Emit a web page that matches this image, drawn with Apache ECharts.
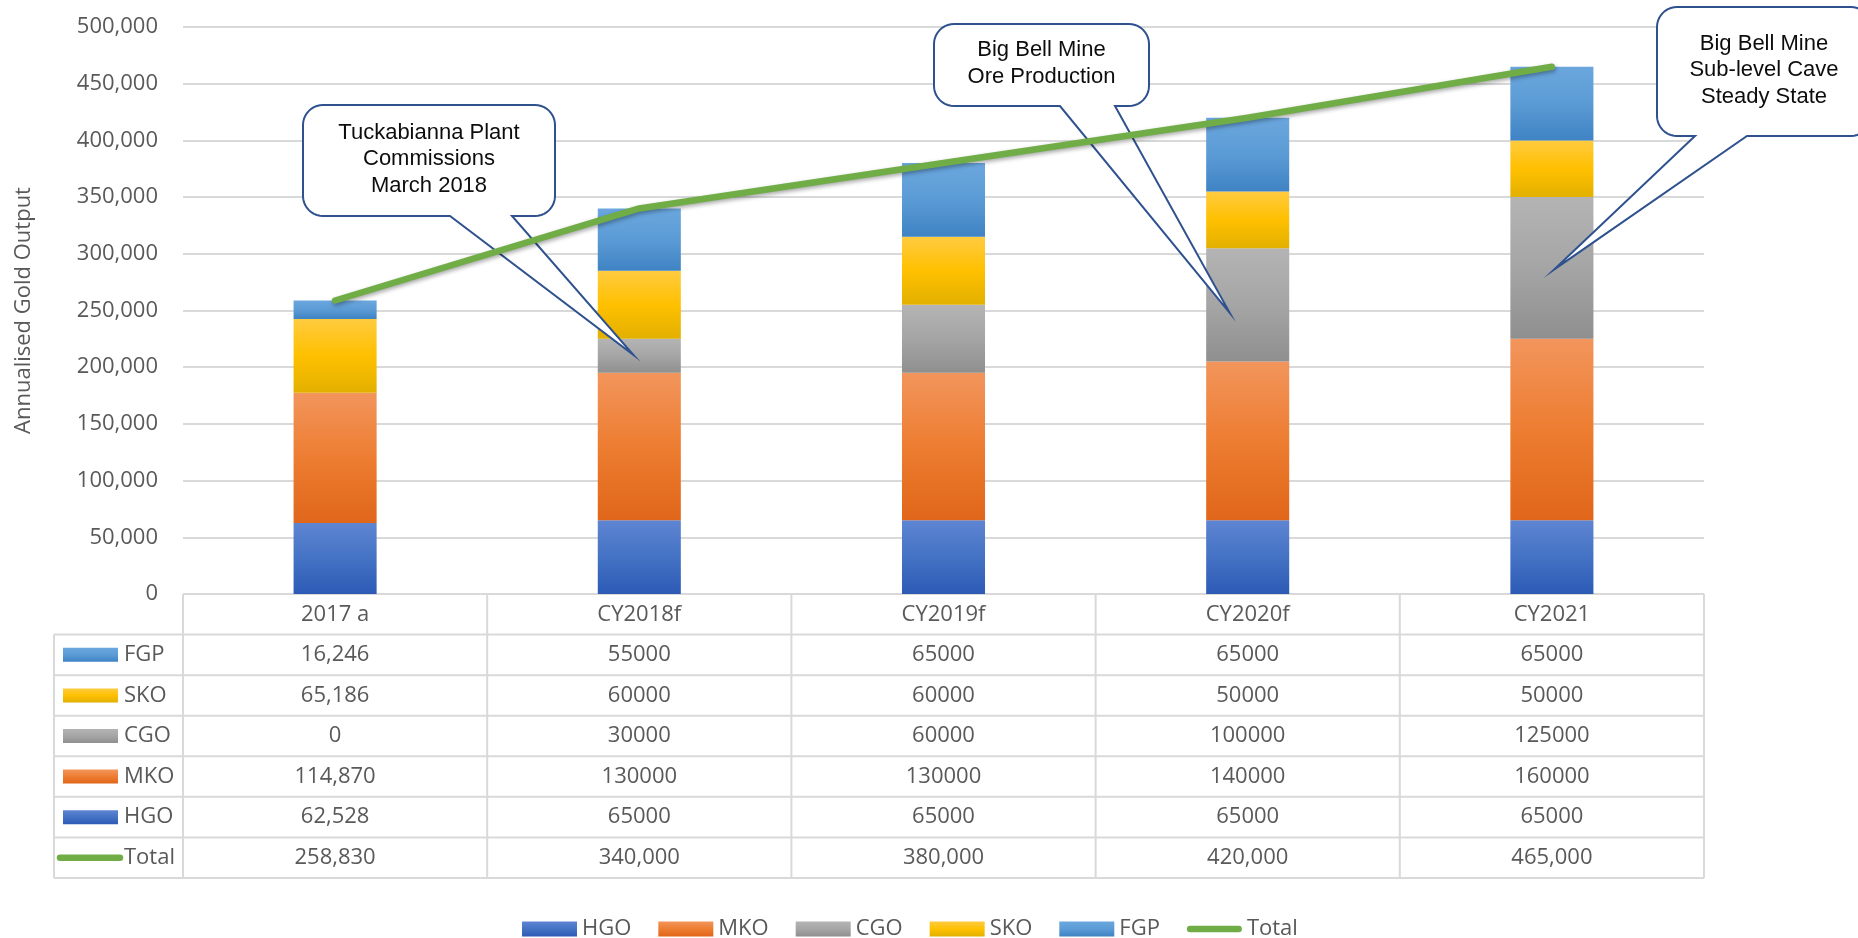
<!DOCTYPE html>
<html>
<head>
<meta charset="utf-8">
<title>Annualised Gold Output</title>
<script src="https://cdn.jsdelivr.net/npm/echarts@6/dist/echarts.min.js"></script>
<style>
  html, body { margin: 0; padding: 0; background: #ffffff; }
  #chart { width: 1858px; height: 938px; }
</style>
</head>
<body>
<div id="chart"></div>
<script>
// ---- data ----
const categories = ['2017 a', 'CY2018f', 'CY2019f', 'CY2020f', 'CY2021'];
const hgo   = [62528, 65000, 65000, 65000, 65000];
const mko   = [114870, 130000, 130000, 140000, 160000];
const cgo   = [0, 30000, 60000, 100000, 125000];
const sko   = [65186, 60000, 60000, 50000, 50000];
const fgp   = [16246, 55000, 65000, 65000, 65000];
const total = [258830, 340000, 380000, 420000, 465000];
// the actual year is printed with thousands separators, forecasts as plain numbers
const groupedColumns = [true, false, false, false, false];
const yMin = 0, yMax = 500000, yStep = 50000;

// ---- look ----
const FONT = "'Open Sans', sans-serif";
const CALLOUT_FONT = "'Liberation Sans', Arial, sans-serif";
const TEXT = '#595959';
const RULE = '#D9D9D9';
const GREEN = '#70AD47';

const fmt = v => Number(v).toLocaleString('en-US');

function grad(stops) {
  return new echarts.graphic.LinearGradient(0, 0, 0, 1, [
    { offset: 0, color: stops[0] },
    { offset: 0.5, color: stops[1] },
    { offset: 1, color: stops[2] }
  ]);
}

const stackDefs = [
  { name: 'HGO', data: hgo, fill: ['#5E85D2', '#4472C4', '#2D5AB5'] },
  { name: 'MKO', data: mko, fill: ['#F2955C', '#ED7D31', '#E0661A'] },
  { name: 'CGO', data: cgo, fill: ['#B4B4B4', '#A5A5A5', '#8F8F8F'] },
  { name: 'SKO', data: sko, fill: ['#FFCB40', '#FFC000', '#E2B000'] },
  { name: 'FGP', data: fgp, fill: ['#6BA7DE', '#5B9BD5', '#3F83C4'] }
];

// rows of the data table under the plot, top to bottom
const tableRows = ['FGP', 'SKO', 'CGO', 'MKO', 'HGO', 'Total'];

// speech-bubble notes: box in page pixels, tail tip anchored to a bar
const callouts = [
  { lines: ['Tuckabianna Plant', 'Commissions', 'March 2018'],
    box: [303, 105, 555, 216], base: [450, 512], cat: 1, value: 211000, dx: -6 },
  { lines: ['Big Bell Mine', 'Ore Production'],
    box: [934, 24, 1149, 106], base: [1060, 1115], cat: 3, value: 248000, dx: -18 },
  { lines: ['Big Bell Mine', 'Sub-level Cave', 'Steady State'],
    box: [1657, 7, 1871, 136], base: [1695, 1747], cat: 4, value: 286000, dx: 2 }
];

const chart = echarts.init(document.getElementById('chart'), null, { renderer: 'canvas' });

const series = stackDefs.map(s => ({
  type: 'bar',
  name: s.name,
  stack: 'gold',
  data: s.data,
  barWidth: '27.3%',
  itemStyle: {
    color: grad(s.fill),
    shadowBlur: 5,
    shadowColor: 'rgba(0,0,0,0.18)'
  },
  emphasis: { disabled: true }
}));

series.push({
  type: 'line',
  name: 'Total',
  data: total,
  z: 5,
  symbol: 'none',
  showSymbol: false,
  itemStyle: { color: GREEN },
  lineStyle: {
    color: GREEN,
    width: 6.5,
    cap: 'round',
    join: 'round',
    shadowBlur: 4,
    shadowOffsetX: 1,
    shadowOffsetY: 2,
    shadowColor: 'rgba(0,0,0,0.35)'
  },
  emphasis: { disabled: true }
});

const legendData = stackDefs.map(s => ({ name: s.name, icon: 'rect' }));
legendData.push({
  name: 'Total',
  icon: 'path://M3.5,0 L56.5,0 A3.5,3.5 0 0 1 56.5,7 L3.5,7 A3.5,3.5 0 0 1 3.5,0 Z',
  itemStyle: { color: GREEN, borderWidth: 0 }
});

chart.setOption({
  animation: false,
  backgroundColor: '#ffffff',
  grid: { left: 183, right: 154, top: 27, bottom: 344, containLabel: false, outerBoundsMode: 'none' },
  xAxis: {
    type: 'category',
    data: categories,
    axisLine: { show: false },
    axisTick: { show: false },
    axisLabel: { show: false },
    splitLine: { show: false }
  },
  yAxis: {
    type: 'value',
    min: yMin,
    max: yMax,
    interval: yStep,
    axisLine: { show: false },
    axisTick: { show: false },
    splitLine: { lineStyle: { color: RULE, width: 2 } },
    axisLabel: { margin: 25, fontFamily: FONT, fontSize: 22, color: TEXT, formatter: v => fmt(v) },
    name: 'Annualised Gold Output',
    nameLocation: 'middle',
    nameGap: 148,
    nameTextStyle: { fontFamily: FONT, fontSize: 22, color: TEXT }
  },
  legend: {
    left: 517,
    top: 913,
    itemWidth: 55,
    itemHeight: 15,
    itemGap: 27,
    selectedMode: false,
    textStyle: { fontFamily: FONT, fontSize: 22, color: TEXT },
    data: legendData
  },
  series: series
});

// ---- data table and notes, laid out on the chart's own scales ----
function roundedBubble(c, tip) {
  const [x0, y0, x1, y1] = c.box;
  const r = 20, n = 10;
  const pts = [];
  const arc = (cx, cy, a0, a1) => {
    for (let i = 0; i <= n; i++) {
      const a = (a0 + (a1 - a0) * i / n) * Math.PI / 180;
      pts.push([cx + r * Math.cos(a), cy + r * Math.sin(a)]);
    }
  };
  arc(x0 + r, y0 + r, 180, 270);
  arc(x1 - r, y0 + r, 270, 360);
  arc(x1 - r, y1 - r, 0, 90);
  pts.push([c.base[1], y1]);
  pts.push(tip);
  pts.push([c.base[0], y1]);
  arc(x0 + r, y1 - r, 90, 180);
  return pts;
}

function drawOverlay() {
  const els = [];
  const zeroY = chart.convertToPixel({ yAxisIndex: 0 }, 0);
  const centers = categories.map((c, i) => chart.convertToPixel({ xAxisIndex: 0 }, i));
  const step = centers[1] - centers[0];
  const edges = [centers[0] - step / 2].concat(centers.map(c => c + step / 2));
  const left = 54;
  const right = edges[edges.length - 1];
  const tableBottom = 878;
  const rowH = (tableBottom - zeroY) / (tableRows.length + 1);
  const lineStyle = { stroke: RULE, lineWidth: 2 };

  // horizontal rules
  for (let k = 0; k <= tableRows.length + 1; k++) {
    const y = zeroY + k * rowH;
    els.push({ type: 'line', z: 1, shape: { x1: k === 0 ? edges[0] : left, y1: y, x2: right, y2: y }, style: lineStyle, silent: true });
  }
  // vertical rules
  edges.forEach(x => {
    els.push({ type: 'line', z: 1, shape: { x1: x, y1: zeroY, x2: x, y2: tableBottom }, style: lineStyle, silent: true });
  });
  els.push({ type: 'line', z: 1, shape: { x1: left, y1: zeroY + rowH, x2: left, y2: tableBottom }, style: lineStyle, silent: true });

  const cellText = (text, x, y, align) => ({
    type: 'text', z: 1, silent: true,
    style: { text: text, x: x, y: y, align: align || 'center', verticalAlign: 'middle',
             textAlign: align || 'center', textVerticalAlign: 'middle',
             fontFamily: FONT, fontSize: 22, fill: TEXT }
  });

  // header row: category names
  categories.forEach((c, i) => els.push(cellText(c, centers[i], zeroY + rowH / 2)));

  // value rows with their key
  tableRows.forEach((name, r) => {
    const cy = zeroY + (r + 1.5) * rowH;
    if (name === 'Total') {
      els.push({ type: 'line', z: 1, silent: true, shape: { x1: 60, y1: cy, x2: 120, y2: cy },
                 style: { stroke: GREEN, lineWidth: 6.5, lineCap: 'round' } });
      total.forEach((v, i) => els.push(cellText(fmt(v), centers[i], cy)));
    } else {
      const def = stackDefs.find(s => s.name === name);
      els.push({ type: 'rect', z: 1, silent: true, shape: { x: 63, y: cy - 7, width: 55, height: 14 },
                 style: { fill: grad(def.fill) } });
      def.data.forEach((v, i) => els.push(cellText(groupedColumns[i] ? fmt(v) : String(v), centers[i], cy)));
    }
    els.push(cellText(name, 124, cy, 'left'));
  });

  // notes
  callouts.forEach(c => {
    const p = chart.convertToPixel({ xAxisIndex: 0, yAxisIndex: 0 }, [c.cat, c.value]);
    const tip = [p[0] + c.dx, p[1]];
    els.push({ type: 'polygon', z: 3, silent: true, shape: { points: roundedBubble(c, tip) },
               style: { fill: '#ffffff', stroke: '#2F528F', lineWidth: 2, lineJoin: 'miter', miterLimit: 20 } });
    els.push({ type: 'text', z: 3, silent: true,
               style: { text: c.lines.join('\n'), x: (c.box[0] + c.box[2]) / 2, y: (c.box[1] + c.box[3]) / 2 - 1.5,
                        align: 'center', verticalAlign: 'middle', textAlign: 'center', textVerticalAlign: 'middle',
                        fontFamily: CALLOUT_FONT, fontSize: 22, lineHeight: 26.5, fill: '#0D0D0D' } });
  });

  chart.setOption({ graphic: { elements: els } });
}

drawOverlay();
</script>
</body>
</html>
